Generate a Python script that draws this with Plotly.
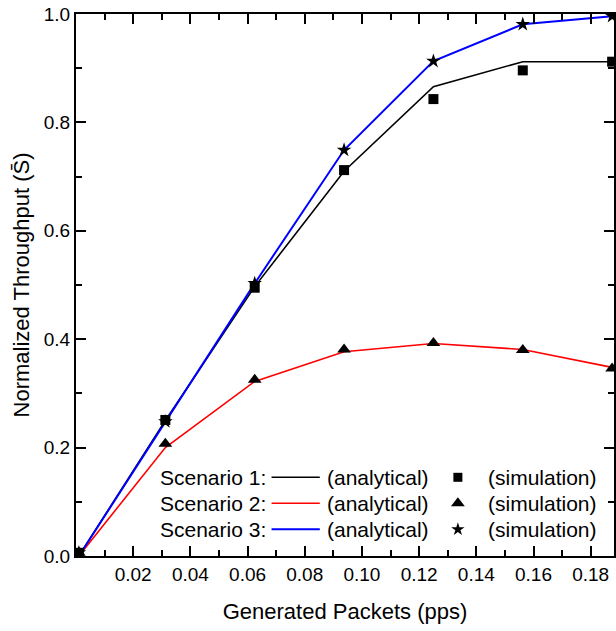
import plotly.graph_objects as go

# ---- data ----
x_rate = [0.001, 0.03125, 0.0625, 0.09375, 0.125, 0.15625, 0.1875]

s1_analytical = [0.0, 0.250, 0.497, 0.710, 0.866, 0.912, 0.912]
s1_simulation = [0.006, 0.251, 0.495, 0.712, 0.843, 0.896, 0.912]

s2_analytical = [0.0, 0.200, 0.322, 0.377, 0.392, 0.381, 0.348]
s2_simulation = [0.006, 0.207, 0.325, 0.381, 0.393, 0.380, 0.346]

s3_analytical = [0.0, 0.248, 0.503, 0.749, 0.913, 0.981, 0.996]
s3_simulation = [0.006, 0.248, 0.503, 0.749, 0.913, 0.981, 0.996]

x_tick_vals = [0.02, 0.04, 0.06, 0.08, 0.10, 0.12, 0.14, 0.16, 0.18]
x_tick_text = ["0.02", "0.04", "0.06", "0.08", "0.10", "0.12", "0.14", "0.16", "0.18"]

scenario_names = ["Scenario 1:", "Scenario 2:", "Scenario 3:"]
line_colors = ["#000000", "#ff0000", "#0000ff"]
line_widths = [1.6, 1.6, 2.0]
marker_symbols = ["square", "triangle-up", "star"]
marker_sizes = [10, 12, 11]
legend_marker_sizes = [9, 12, 10]

FONT = "Arial, Liberation Sans, sans-serif"

W, H = 616, 631
L, R, T, B = 76, 0, 14, 75
X_MAX = (W - L - R) / 2870.0
Y_MAX = 1.0

fig = go.Figure()

analytical = [s1_analytical, s2_analytical, s3_analytical]
simulation = [s1_simulation, s2_simulation, s3_simulation]

for i in range(3):
    fig.add_trace(go.Scatter(
        x=x_rate, y=analytical[i], mode="lines",
        line=dict(color=line_colors[i], width=line_widths[i]),
        showlegend=False))
for i in range(3):
    fig.add_trace(go.Scatter(
        x=x_rate, y=simulation[i], mode="markers",
        marker=dict(symbol=marker_symbols[i], size=marker_sizes[i], color="black",
                    line=dict(width=0)),
        showlegend=False))

# ---- custom legend (positions expressed as fractions of the plot area) ----
pw = W - L - R
ph = H - T - B
def px2x(px):
    return (px - L) / pw
def py2y(py):
    return (H - B - py) / ph

row_py = [477.3, 503.3, 529.3]
for i in range(3):
    yy = py2y(row_py[i])
    fig.add_annotation(x=px2x(158), y=yy, xref="paper", yref="paper",
                       text=scenario_names[i], showarrow=False, xanchor="left",
                       yanchor="middle", font=dict(family=FONT, size=21, color="black"))
    fig.add_shape(type="line", xref="paper", yref="paper",
                  x0=px2x(272.3), x1=px2x(320.7), y0=yy, y1=yy,
                  line=dict(color=line_colors[i], width=line_widths[i]))
    fig.add_annotation(x=px2x(325.5), y=yy, xref="paper", yref="paper",
                       text="(analytical)", showarrow=False, xanchor="left",
                       yanchor="middle", font=dict(family=FONT, size=21, color="black"))
    fig.add_annotation(x=px2x(488), y=yy, xref="paper", yref="paper",
                       text="(simulation)", showarrow=False, xanchor="left",
                       yanchor="middle", font=dict(family=FONT, size=21, color="black"))
    fig.add_trace(go.Scatter(
        x=[px2x(459.3) * X_MAX], y=[yy * Y_MAX], mode="markers",
        marker=dict(symbol=marker_symbols[i], size=legend_marker_sizes[i], color="black",
                    line=dict(width=0)),
        showlegend=False, hoverinfo="skip"))

fig.update_layout(
    width=W, height=H,
    margin=dict(l=L, r=R, t=T, b=B),
    paper_bgcolor="white", plot_bgcolor="white",
    showlegend=False,
    xaxis=dict(
        range=[0, X_MAX],
        tickmode="array", tickvals=x_tick_vals, ticktext=x_tick_text,
        ticks="inside", ticklen=10, tickwidth=2, tickcolor="black",
        minor=dict(dtick=0.01, ticks="inside", ticklen=6, tickwidth=2, tickcolor="black"),
        showline=True, linecolor="black", linewidth=2, mirror="allticks",
        zeroline=False,
        tickfont=dict(family=FONT, size=19, color="black"),
        title=dict(text="Generated Packets (pps)", font=dict(family=FONT, size=22, color="black"),
                   standoff=20)),
    yaxis=dict(
        range=[0, Y_MAX], dtick=0.2, tickformat=".1f",
        ticks="inside", ticklen=10, tickwidth=2, tickcolor="black",
        minor=dict(dtick=0.1, ticks="inside", ticklen=6, tickwidth=2, tickcolor="black"),
        showline=True, linecolor="black", linewidth=2, mirror="allticks",
        zeroline=False,
        tickfont=dict(family=FONT, size=19, color="black"),
        title=dict(text="Normalized Throughput (S\u0304)", font=dict(family=FONT, size=22, color="black"),
                   standoff=8)),
)

fig.write_html("out.html", config={"displayModeBar": False},
               post_script="document.body.style.margin='0';")
